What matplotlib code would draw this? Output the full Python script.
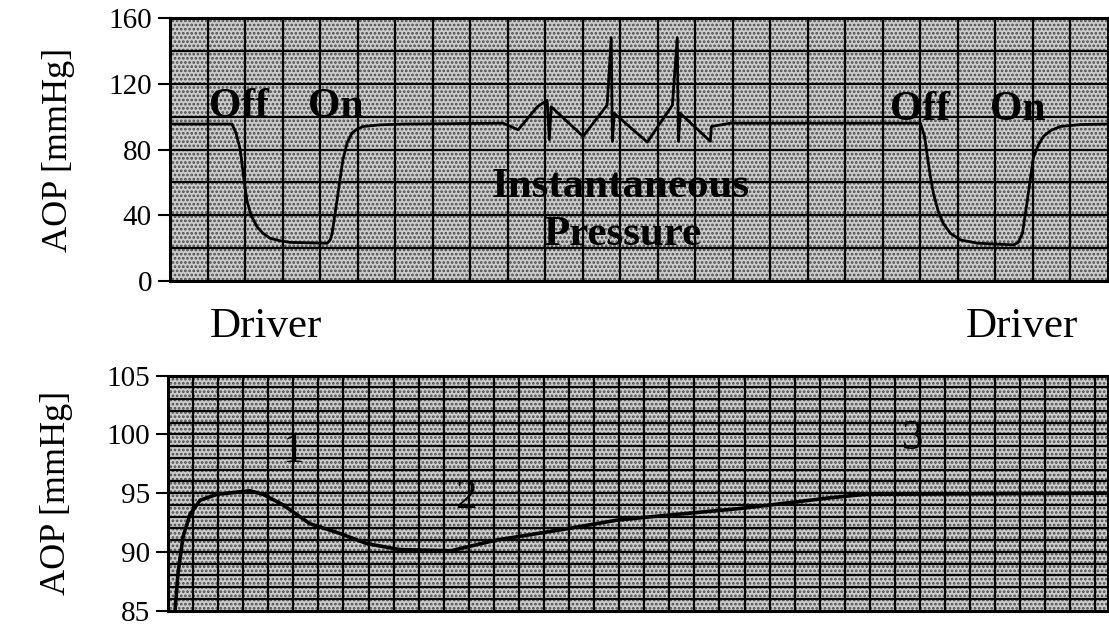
import matplotlib
matplotlib.use('Agg')
import matplotlib.pyplot as plt
from matplotlib.patches import Rectangle
import numpy as np

plt.rcParams['font.family'] = ['Liberation Serif', 'DejaVu Serif']

# top trace: driver off/on and instantaneous pressure (x in chart-paper divisions)
top_x = [0, 1.65, 1.76, 1.87, 1.97, 2.05, 2.16, 2.32, 2.48, 2.67, 2.93, 3.2, 4.19, 4.27, 4.32,
         4.45, 4.61, 4.72, 4.85, 4.99, 5.15, 5.6, 6.21,
         8.88, 9.28, 9.79, 10.05, 10.11, 10.16, 11.01, 11.65, 11.76, 11.79, 11.84,
         12.72, 13.39, 13.52, 13.55, 13.6, 14.4, 14.43, 14.93,
         20.0, 20.11, 20.19, 20.27, 20.35, 20.48, 20.61, 20.8, 21.07, 21.52, 22.48, 22.61,
         22.72, 22.85, 23.01, 23.15, 23.28, 23.47, 23.73, 24.27, 25.0]
top_y = [95.5, 95.5, 90, 80, 62, 49, 40, 33, 29, 26, 24.5, 23.5, 23, 25, 29,
         49, 74, 84, 90, 92.5, 94, 95, 95.5,
         96, 92, 106, 110, 86, 106, 88, 107, 148, 85, 102,
         84.5, 107, 148, 85, 102, 85, 94, 96,
         96, 88, 75, 63, 53, 42, 35, 29, 25, 23, 22, 23.5,
         29, 49, 75, 83, 88, 91.5, 94, 95.2, 95.5]

# bottom trace: mean pressure recovery
bot_x = [0.28, 0.40, 0.60, 0.88, 1.28, 1.95, 3.27, 3.79, 4.59, 5.66, 6.82, 7.94, 9.25,
         11.29, 13.08, 15.72, 17.91, 19.31, 22.86, 26.41, 27.80, 37.5]
bot_y = [85.0, 88.2, 91.3, 93.2, 94.4, 94.9, 95.2, 94.9, 94.0, 92.4, 91.6, 90.7, 90.2,
         90.1, 91.0, 91.9, 92.7, 93.0, 93.7, 94.6, 94.9, 95.0]

top_ticks = [0, 40, 80, 120, 160]
bot_ticks = [85, 90, 95, 100, 105]

fig = plt.figure(figsize=(11.09, 6.27), dpi=100)
ax1 = fig.add_axes([0.1533, 0.5518, 0.8458, 0.4195])
ax2 = fig.add_axes([0.1515, 0.026, 0.8476, 0.375])

plt.rcParams['hatch.linewidth'] = 1.3
plt.rcParams['hatch.color'] = '#4a4a4a'


def paper(ax, xmax, ymin, ymax, ystep):
    ax.set_xlim(0, xmax)
    ax.set_ylim(ymin, ymax)
    ax.add_patch(Rectangle((0, 0), 1, 1, transform=ax.transAxes, facecolor='#cccccc',
                           edgecolor='#4a4a4a', hatch='....', lw=0, zorder=0))
    for gx in np.arange(1, xmax, 1):
        ax.axvline(gx, color='black', lw=1.6, zorder=1)
    for gy in np.arange(ymin + ystep, ymax, ystep):
        ax.axhline(gy, color='black', lw=1.6, zorder=1)
    for s in ax.spines.values():
        s.set_linewidth(2.2)
    ax.set_xticks([])
    ax.tick_params(axis='y', length=9, width=1.5, labelsize=21, pad=4)
    ax.set_ylabel('AOP [mmHg]', fontsize=26, labelpad=24)


paper(ax1, 25, 0, 160, 20)
ax1.set_yticks(top_ticks)
ax1.plot(top_x, top_y, color='black', lw=2.0, zorder=3)
ax1.text(1.85, 100, 'Off', fontsize=30, fontweight='bold', ha='center', va='baseline', zorder=4)
ax1.text(4.42, 100, 'On', fontsize=30, fontweight='bold', ha='center', va='baseline', zorder=4)
ax1.text(20.0, 98, 'Off', fontsize=30, fontweight='bold', ha='center', va='baseline', zorder=4)
ax1.text(22.6, 98, 'On', fontsize=30, fontweight='bold', ha='center', va='baseline', zorder=4)
ax1.text(12.0, 51, 'Instantaneous', fontsize=31, fontweight='bold', ha='center', va='baseline', zorder=4)
ax1.text(12.05, 22, 'Pressure', fontsize=31, fontweight='bold', ha='center', va='baseline', zorder=4)

paper(ax2, 37.5, 85, 105, 1)
ax2.set_yticks(bot_ticks)
ax2.plot(bot_x, bot_y, color='black', lw=2.6, zorder=3)
ax2.text(5.0, 98.5, '1', fontsize=31, ha='center', va='center', zorder=4)
ax2.text(11.9, 94.6, '2', fontsize=31, ha='center', va='center', zorder=4)
ax2.text(29.7, 99.6, '3', fontsize=31, ha='center', va='center', zorder=4)

fig.text(266 / 1109, 1 - 337 / 627, 'Driver', fontsize=31, ha='center', va='baseline')
fig.text(1022 / 1109, 1 - 337 / 627, 'Driver', fontsize=31, ha='center', va='baseline')

fig.savefig('out.png', dpi=100)
